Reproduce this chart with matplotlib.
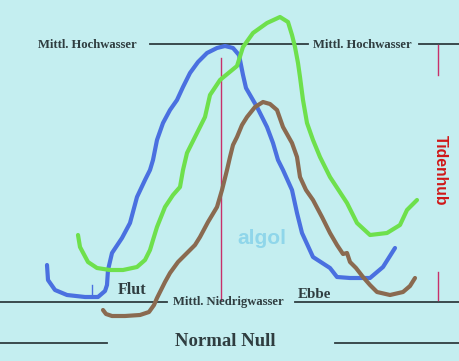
import matplotlib
matplotlib.use("Agg")
import matplotlib.pyplot as plt
import numpy as np

# Curves traced in picture coordinates (x right, y down), pixels of a 460x361 drawing
blue_x = [47, 48, 55, 67, 85, 98, 105, 107, 108, 112, 122, 130, 137, 145, 150, 153, 157, 163, 170, 177, 183, 190, 198, 207, 217, 225, 233, 239, 241, 243, 246, 257, 267, 273, 278, 283, 292, 297, 302, 313, 330, 337, 350, 370, 383, 395]
blue_y = [265, 280, 290, 295, 297, 297, 291, 285, 270, 253, 238, 223, 197, 180, 170, 160, 140, 123, 110, 100, 87, 73, 62, 53, 48, 46, 48, 55, 65, 75, 88, 107, 127, 143, 160, 170, 190, 213, 233, 257, 268, 277, 278, 278, 267, 248]
green_x = [78, 80, 88, 97, 110, 123, 137, 145, 150, 153, 157, 165, 173, 180, 183, 187, 197, 205, 210, 220, 237, 243, 253, 267, 280, 288, 292, 295, 298, 300, 303, 307, 313, 320, 330, 347, 357, 370, 387, 400, 407, 417]
green_y = [235, 247, 262, 268, 270, 270, 267, 260, 250, 240, 227, 207, 195, 187, 170, 153, 133, 117, 95, 80, 66, 47, 33, 23, 17, 22, 35, 47, 63, 77, 100, 123, 140, 157, 177, 203, 223, 235, 233, 225, 210, 200]
brown_x = [103, 106, 112, 125, 140, 149, 154, 157, 160, 165, 170, 178, 187, 195, 200, 208, 217, 222, 227, 230, 233, 237, 242, 247, 255, 263, 270, 277, 283, 292, 297, 300, 306, 313, 322, 330, 337, 343, 347, 350, 356, 363, 370, 377, 390, 403, 410, 415]
brown_y = [310, 314, 316, 316, 315, 312, 305, 298, 292, 282, 273, 262, 253, 245, 237, 222, 207, 190, 170, 157, 145, 137, 125, 117, 107, 102, 104, 110, 127, 143, 157, 177, 190, 200, 217, 233, 245, 254, 253, 262, 268, 277, 285, 292, 295, 292, 286, 278]

level_labels = ["Mittl. Hochwasser", "Mittl. Niedrigwasser", "Normal Null"]
phase_labels = ["Flut", "Ebbe"]
range_label = "Tidenhub"
watermark = "algol"

W, H = 460, 361
fig = plt.figure(figsize=(W / 100, H / 100), dpi=100)
fig.patch.set_facecolor("#c4eef0")
ax = fig.add_axes([0, 0, 1, 1])
ax.set_facecolor("#c4eef0")
ax.set_xlim(0, W)
ax.set_ylim(H, 0)
ax.axis("off")

dark = "#2f3d40"
red = "#c8306a"
lw_line = 1.3
serif = "Liberation Serif"

# Mittl. Hochwasser
ax.plot([150, 308], [44, 44], color=dark, lw=lw_line)
ax.plot([419, 460], [44, 44], color=dark, lw=lw_line)
ax.text(38, 45, level_labels[0], fontsize=9.1, family=serif, color=dark,
        weight="semibold", va="center", ha="left")
ax.text(313, 45, level_labels[0], fontsize=9.1, family=serif, color=dark,
        weight="semibold", va="center", ha="left")

# Mittl. Niedrigwasser
ax.plot([0, 167], [302, 302], color=dark, lw=lw_line)
ax.plot([295, 460], [302, 302], color=dark, lw=lw_line)
ax.text(173, 302, level_labels[1], fontsize=9.1, family=serif, color=dark,
        weight="semibold", va="center", ha="left")

# Normal Null
ax.plot([0, 107], [343, 343], color=dark, lw=lw_line)
ax.plot([335, 460], [343, 343], color=dark, lw=lw_line)
ax.text(175, 342, level_labels[2], fontsize=13.5, family=serif, color=dark,
        weight="bold", va="center", ha="left")

# Flut / Ebbe
ax.text(118, 290, phase_labels[0], fontsize=11.5, family=serif, color=dark,
        weight="bold", va="center", ha="left")
ax.text(298, 295, phase_labels[1], fontsize=10.8, family=serif, color=dark,
        weight="bold", va="center", ha="left")

# red vertical lines
ax.plot([221, 221], [58, 300], color=red, lw=1.0)
ax.plot([438, 438], [45, 75], color=red, lw=1.0)
ax.plot([438, 438], [272, 300], color=red, lw=1.0)
ax.text(440, 170, range_label, fontsize=11.3, family="Liberation Sans", color="#d01818",
        weight="bold", rotation=-90, va="center", ha="center")

# watermark
ax.text(262, 238, watermark, fontsize=15, family="Liberation Sans", color="#8fd6ea",
        weight="bold", va="center", ha="center")

# curves
ax.plot(blue_x, blue_y, color="#4a70e0", lw=3, solid_capstyle="round", solid_joinstyle="round")
ax.plot([92, 92], [285, 297], color="#4a70e0", lw=1)
ax.plot(green_x, green_y, color="#6ee04c", lw=3, solid_capstyle="round", solid_joinstyle="round")
ax.plot(brown_x, brown_y, color="#8a6a50", lw=3, solid_capstyle="round", solid_joinstyle="round")

fig.savefig("out.png", dpi=100, facecolor=fig.get_facecolor())
